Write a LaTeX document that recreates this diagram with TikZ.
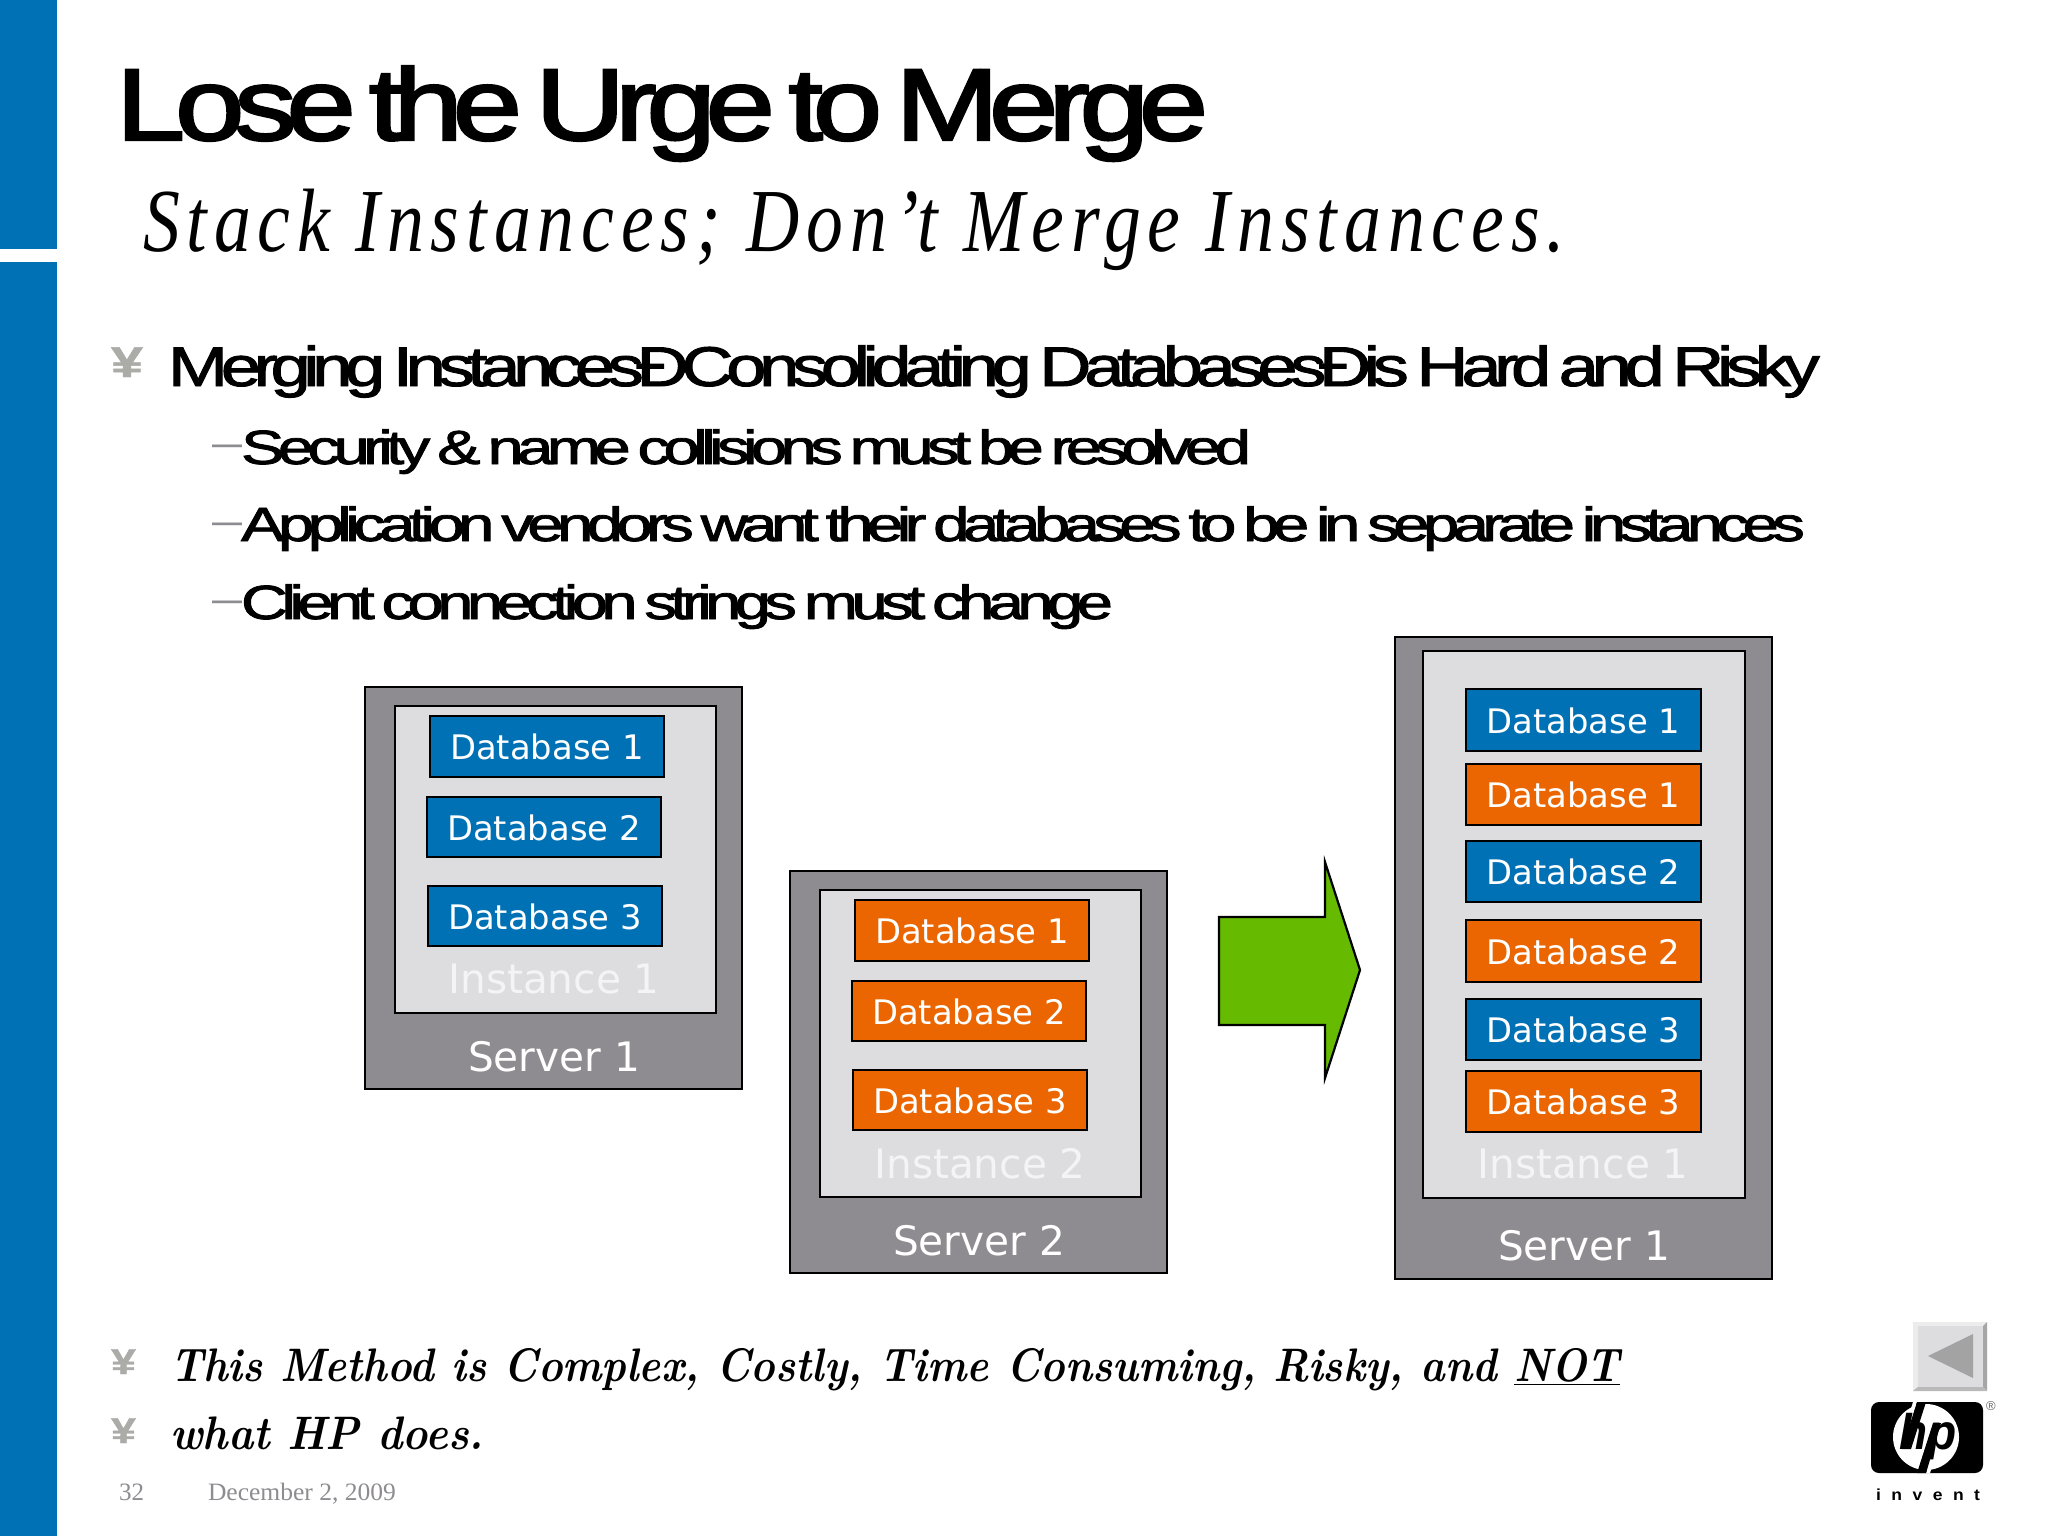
\documentclass[tikz,border=0pt]{standalone}
\usepackage{fontspec}
\usepackage{graphicx}
\newfontfamily\titlef[LetterSpace=-8,FakeBold=2.2,WordSpace=0.55]{Liberation Sans}
\newfontfamily\bodyf[LetterSpace=-10,FakeBold=1.6,WordSpace=0.6]{Liberation Sans}
\newfontfamily\subf[LetterSpace=8,FakeStretch=0.85]{Liberation Serif}
\newfontfamily\footf{Liberation Serif}
\newfontfamily\plainf{Liberation Sans}
\newfontfamily\boxf{DejaVu Sans}
\definecolor{hpblue}{HTML}{0071B5}
\definecolor{hporange}{HTML}{EB6500}
\definecolor{srvgray}{HTML}{8E8C90}
\definecolor{insgray}{HTML}{DDDDDF}
\definecolor{arrowgreen}{HTML}{66BB00}
\definecolor{bulgray}{HTML}{ABABA8}
\definecolor{labwhite}{HTML}{F4F4F6}
\newcommand{\fitw}[2]{\resizebox{#1pt}{\height}{#2}}
% name, style, x1, y1, x2, y2, text
\newcommand{\rbox}[7]{%
  \pgfmathsetmacro{\bw}{(#5-#3)*0.5}%
  \pgfmathsetmacro{\bh}{(#6-#4)*0.5}%
  \node[#2,minimum width=\bw pt,minimum height=\bh pt] (#1) at ({(#3+#5)/2},{(#4+#6)/2}) {#7};}
\tikzset{
  x=0.5pt,y=-0.5pt,
  every node/.style={inner sep=0pt,outer sep=0pt},
  boxbase/.style={draw=black,line width=1.3pt,rectangle},
  serverbox/.style={boxbase,fill=srvgray},
  instbox/.style={boxbase,fill=insgray},
  dbblue/.style={boxbase,fill=hpblue,text=white,text height=13.4pt,text depth=0pt,font=\boxf\fontsize{16.9}{18}\selectfont},
  dborange/.style={boxbase,fill=hporange,text=white,text height=13.4pt,text depth=0pt,font=\boxf\fontsize{16.9}{18}\selectfont},
  instlabel/.style={anchor=base,text=labwhite,font=\boxf\fontsize{20.3}{22}\selectfont},
  srvlabel/.style={anchor=base,text=white,font=\boxf\fontsize{20.3}{22}\selectfont},
  lefttext/.style={anchor=base west},
  yen/.style={anchor=base west,text=bulgray,font=\plainf\bfseries\addfontfeature{FakeBold=1}},
  dashmark/.style={anchor=base west,text=srvgray,font=\plainf\fontsize{20}{22}\selectfont},
}
\begin{document}
\begin{tikzpicture}
\useasboundingbox (0,0) rectangle (2048,1536);
\fill[white] (0,0) rectangle (2048,1536);
% sidebar
\fill[hpblue] (0,0) rectangle (57,249);
\fill[hpblue] (0,262) rectangle (57,1536);
% title
\node[lefttext] (title) at (116,140) {\fitw{546}{\titlef\fontsize{51}{51}\selectfont Lose the Urge to Merge}};
\node[lefttext] (subtitle) at (143,251) {\fitw{711}{\subf\itshape\fontsize{45}{45}\selectfont Stack Instances; Don’t Merge Instances.}};
% bullets
\node[yen] (b1) at (111,377) {\fitw{16}{\fontsize{21.5}{22}\selectfont ¥}};
\node[lefttext] (l1) at (168,386) {\fitw{826}{\bodyf\fontsize{28}{28}\selectfont Merging InstancesÐConsolidating DatabasesÐis Hard and Risky}};
\node[dashmark] (d1) at (212,456) {\fitw{15}{–}};
\node[lefttext] (l2) at (241,464) {\fitw{505}{\bodyf\fontsize{24}{24}\selectfont Security \& name collisions must be resolved}};
\node[dashmark] (d2) at (212,534) {\fitw{15}{–}};
\node[lefttext] (l3) at (241,541) {\fitw{782}{\bodyf\fontsize{24}{24}\selectfont Application vendors want their databases to be in separate instances}};
\node[dashmark] (d3) at (212,612) {\fitw{15}{–}};
\node[lefttext] (l4) at (241,619) {\fitw{436}{\bodyf\fontsize{24}{24}\selectfont Client connection strings must change}};
% server 1 left
\rbox{sa}{serverbox}{365}{687}{742}{1089}{}
\rbox{ia}{instbox}{395}{706}{716}{1013}{}
\rbox{a1}{dbblue}{430}{716}{664}{777}{Database 1}
\rbox{a2}{dbblue}{427}{797}{661}{857}{Database 2}
\rbox{a3}{dbblue}{428}{886}{662}{946}{Database 3}
\node[instlabel] (ial) at (554,993) {Instance 1};
\node[srvlabel] (sal) at (554,1071) {Server 1};
% server 2
\rbox{sb}{serverbox}{790}{871}{1167}{1273}{}
\rbox{ib}{instbox}{820}{890}{1141}{1197}{}
\rbox{b1x}{dborange}{855}{900}{1089}{961}{Database 1}
\rbox{b2x}{dborange}{852}{981}{1086}{1041}{Database 2}
\rbox{b3x}{dborange}{853}{1070}{1087}{1130}{Database 3}
\node[instlabel] (ibl) at (980,1178) {Instance 2};
\node[srvlabel] (sbl) at (979,1255) {Server 2};
% arrow
\draw[black,line width=1.1pt,fill=arrowgreen,line join=miter] (1219,917) -- (1325,917) -- (1325,862) -- (1360,970) -- (1325,1078) -- (1325,1025) -- (1219,1025) -- cycle;
% server 1 right
\rbox{sc}{serverbox}{1395}{637}{1772}{1279}{}
\rbox{ic}{instbox}{1423}{651}{1745}{1198}{}
\rbox{c1}{dbblue}{1466}{689}{1701}{751}{Database 1}
\rbox{c2}{dborange}{1466}{764}{1701}{825}{Database 1}
\rbox{c3}{dbblue}{1466}{841}{1701}{902}{Database 2}
\rbox{c4}{dborange}{1466}{920}{1701}{982}{Database 2}
\rbox{c5}{dbblue}{1466}{999}{1701}{1060}{Database 3}
\rbox{c6}{dborange}{1466}{1071}{1701}{1132}{Database 3}
\node[instlabel] (icl) at (1583,1178) {Instance 1};
\node[srvlabel] (scl) at (1584,1260) {Server 1};
% bottom bullets
\node[yen] (b2) at (111,1374) {\fitw{12.5}{\fontsize{18}{18}\selectfont ¥}};
\node[lefttext] (m1) at (170,1381) {\fitw{725}{\bfseries\itshape\addfontfeature{LetterSpace=2,FakeBold=1.2}\fontsize{23.5}{24}\selectfont This Method is Complex, Costly, Time Consuming, Risky, and \underline{NOT}}};
\node[yen] (b3) at (111,1443) {\fitw{12.5}{\fontsize{18}{18}\selectfont ¥}};
\node[lefttext] (m2) at (170,1449) {\fitw{157}{\bfseries\itshape\addfontfeature{LetterSpace=2,FakeBold=1.2}\fontsize{23.5}{24}\selectfont what HP does.}};
% footer
\node[lefttext,text=srvgray,font=\footf\fontsize{12.5}{13}\selectfont] (pg) at (119,1500) {32};
\node[lefttext,text=srvgray] (dt) at (208,1500) {\fitw{94}{\footf\fontsize{12.5}{13}\selectfont December 2, 2009}};
% back button
\fill[insgray] (1913,1322) rectangle (1987,1391);
\fill[gray!15] (1913,1322) -- (1987,1322) -- (1983,1326) -- (1918,1326) -- (1918,1387) -- (1913,1391) -- cycle;
\fill[gray!70] (1987,1322) -- (1987,1391) -- (1983,1387) -- (1983,1326) -- cycle;
\fill[gray!55] (1913,1391) -- (1987,1391) -- (1983,1387) -- (1918,1387) -- cycle;
\fill[black!36] (1928,1356) -- (1973,1334) -- (1973,1378) -- cycle;
% hp logo
\fill[black,rounded corners=4pt] (1871,1402) rectangle (1983,1473);
\fill[white] (1926,1437) circle[radius=33];
\fill[white] (1913,1402) -- (1917,1402) -- (1907,1434) -- (1903,1434) -- cycle;
\fill[white] (1926,1473) -- (1930,1473) -- (1940,1441) -- (1936,1441) -- cycle;
\fill[black] (1917,1402) -- (1926,1402) -- (1911,1449) -- (1902,1449) -- cycle;
\fill[black] (1917,1473) -- (1926,1473) -- (1941,1423) -- (1933,1423) -- cycle;
\node[lefttext] (hp) at (1899,1449) {\fitw{29}{\plainf\bfseries\itshape\addfontfeature{LetterSpace=4}\fontsize{25}{25}\selectfont hp}};
\node[text=black!60,font=\plainf\fontsize{6.5}{6.5}\selectfont] (reg) at (1991,1406) {®};
\node[lefttext] (inv) at (1876,1500) {\fitw{52}{\plainf\bfseries\addfontfeature{LetterSpace=60}\fontsize{8}{9}\selectfont invent}};
\end{tikzpicture}
\end{document}
